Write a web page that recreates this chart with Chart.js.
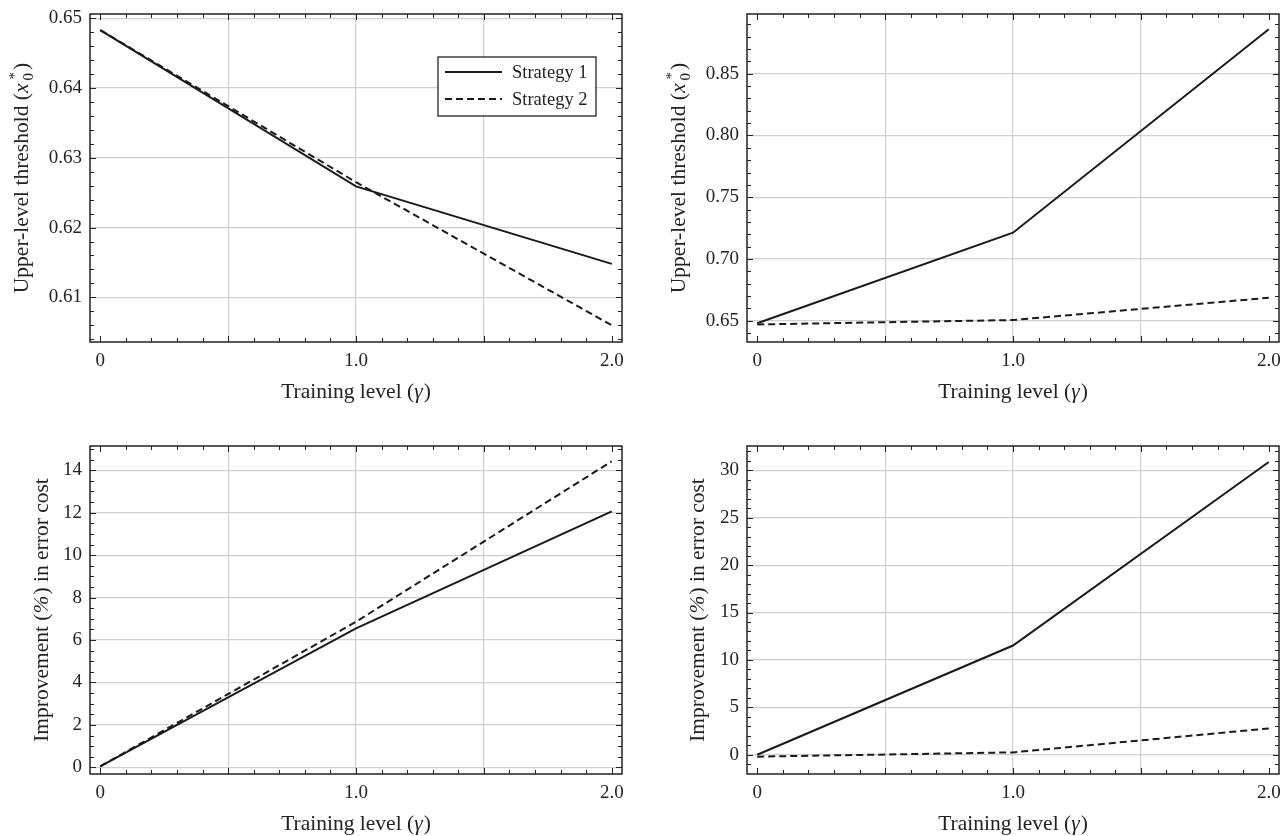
<!DOCTYPE html>
<html>
<head>
<meta charset="utf-8">
<script src="https://cdn.jsdelivr.net/npm/chart.js@4.4.1/dist/chart.umd.min.js"></script>
<style>
  html, body { margin: 0; padding: 0; background: #fff; }
  #wrap { position: relative; width: 1288px; height: 836px; }
  .panel { position: absolute; width: 644px; height: 418px; }
</style>
</head>
<body>
<div id="wrap">
  <div class="panel" style="left:0;top:0"><canvas id="c1"></canvas></div>
  <div class="panel" style="left:644px;top:0"><canvas id="c2"></canvas></div>
  <div class="panel" style="left:0;top:418px"><canvas id="c3"></canvas></div>
  <div class="panel" style="left:644px;top:418px"><canvas id="c4"></canvas></div>
</div>
<script>
// training level values (gamma)
const gamma = [0, 1.0, 2.0];

// upper-level threshold, left panel
const thrA1 = [0.6483, 0.6259, 0.6148];
const thrA2 = [0.6483, 0.6265, 0.6060];
// upper-level threshold, right panel
const thrB1 = [0.648, 0.7213, 0.886];
const thrB2 = [0.647, 0.6506, 0.6686];
// improvement (%) in error cost, left panel
const impA1 = [0.05, 6.55, 12.06];
const impA2 = [0.05, 6.86, 14.42];
// improvement (%) in error cost, right panel
const impB1 = [0.0, 11.52, 30.87];
const impB2 = [-0.2, 0.25, 2.78];

const seriesNames = ["Strategy 1", "Strategy 2"];

// axis ticks
const xTickValues = [0, 0.5, 1.0, 1.5, 2.0];
const xTickLabels = ["0", "", "1.0", "", "2.0"];
const thrATicks = [0.61, 0.62, 0.63, 0.64, 0.65];
const thrBTicks = [0.65, 0.70, 0.75, 0.80, 0.85];
const impATicks = [0, 2, 4, 6, 8, 10, 12, 14];
const impBTicks = [0, 5, 10, 15, 20, 25, 30];

const FONT = '"Liberation Serif", "Times New Roman", serif';
const INK = "#222";
const TICK_SIZE = 19;
const TITLE_SIZE = 21.5;

const xTitle = ["Training level (", { t: "\u03b3", it: true }, ")"];
const thrTitle = ["Upper-level threshold (", { t: "x", it: true, gap: 2 }, { sub: "0", sup: "*" }, ")"];
const impTitle = ["Improvement (", { t: "%", it: true }, ") in error cost"];

// draw a title made of plain / italic / stacked sub+sup pieces, centred on (0,0)
function drawRich(ctx, parts, size) {
  const small = Math.round(size * 0.72);
  const f = (it, s) => (it ? "italic " : "") + s + "px " + FONT;
  const items = parts.map(p => {
    if (typeof p === "string") p = { t: p };
    if (p.sub !== undefined) {
      ctx.font = f(false, small);
      const w = Math.max(ctx.measureText(p.sub).width, ctx.measureText(p.sup).width);
      return { ...p, w: w + 3 };
    }
    ctx.font = f(p.it, size);
    return { ...p, w: ctx.measureText(p.t).width + (p.it ? 1 : 0) + (p.gap || 0) };
  });
  const total = items.reduce((s, p) => s + p.w, 0);
  let x = -total / 2;
  const base = size * 0.33;
  ctx.textAlign = "left";
  ctx.textBaseline = "alphabetic";
  items.forEach(p => {
    if (p.sub !== undefined) {
      ctx.font = f(false, small);
      ctx.fillText(p.sub, x, base + size * 0.22);
      ctx.fillText(p.sup, x + 1, base - size * 0.42);
    } else {
      ctx.font = f(p.it, size);
      ctx.fillText(p.t, x, base);
    }
    x += p.w;
  });
}

const framePlugin = {
  id: "frame",
  afterDraw(chart, args, o) {
    const { ctx, chartArea: a, scales } = chart;
    const xs = scales.x, ys = scales.y;
    ctx.save();
    ctx.strokeStyle = INK;
    ctx.lineWidth = 1;
    ctx.beginPath();
    // inward ticks on all four sides
    for (let i = 0; i <= 20; i++) {
      const v = i / 10;
      const px = Math.round(xs.getPixelForValue(v)) + 0.5;
      const len = i % 5 === 0 ? 6 : 4;
      ctx.moveTo(px, a.bottom); ctx.lineTo(px, a.bottom - len);
      ctx.moveTo(px, a.top); ctx.lineTo(px, a.top + len);
    }
    const n = Math.round((o.yTo - o.yFrom) / o.yStep);
    for (let i = 0; i <= n; i++) {
      const v = o.yFrom + i * o.yStep;
      const py = Math.round(ys.getPixelForValue(v)) + 0.5;
      if (py < a.top || py > a.bottom) continue;
      const major = o.majors.some(m => Math.abs(m - v) < o.yStep / 10);
      const len = major ? 6 : 4;
      ctx.moveTo(a.left, py); ctx.lineTo(a.left + len, py);
      ctx.moveTo(a.right, py); ctx.lineTo(a.right - len, py);
    }
    ctx.stroke();
    ctx.lineWidth = 1.5;
    ctx.strokeRect(a.left, a.top, a.right - a.left, a.bottom - a.top);

    // axis titles
    ctx.fillStyle = INK;
    ctx.save();
    ctx.translate((a.left + a.right) / 2, a.bottom + 49);
    drawRich(ctx, xTitle, TITLE_SIZE);
    ctx.restore();
    ctx.save();
    ctx.translate(a.left + o.yTitleOffset, (a.top + a.bottom) / 2);
    ctx.rotate(-Math.PI / 2);
    drawRich(ctx, o.yTitle, TITLE_SIZE);
    ctx.restore();

    // legend inside the plot
    if (o.legend) {
      const bw = 158, bh = 59;
      const bx = a.right - 26 - bw, by = a.top + 43;
      ctx.fillStyle = "#fff";
      ctx.fillRect(bx, by, bw, bh);
      ctx.lineWidth = 1.3;
      ctx.strokeStyle = INK;
      ctx.strokeRect(bx, by, bw, bh);
      chart.data.datasets.forEach((ds, i) => {
        const ry = by + 15 + i * 27;
        ctx.beginPath();
        ctx.lineWidth = ds.borderWidth;
        ctx.strokeStyle = ds.borderColor;
        ctx.setLineDash(ds.borderDash || []);
        ctx.moveTo(bx + 7, ry); ctx.lineTo(bx + 64, ry);
        ctx.stroke();
        ctx.setLineDash([]);
        ctx.fillStyle = INK;
        ctx.font = "18.5px " + FONT;
        ctx.textAlign = "left";
        ctx.textBaseline = "middle";
        ctx.fillText(ds.label, bx + 74, ry + 1);
      });
    }
    ctx.restore();
  }
};

const gridColor = "#cfcfcf";

function makeChart(id, s1, s2, yMin, yMax, yTicks, yFmt, pad, frameOpts) {
  const pts = arr => gamma.map((g, i) => ({ x: g, y: arr[i] }));
  return new Chart(document.getElementById(id), {
    type: "line",
    data: {
      datasets: [
        { label: seriesNames[0], data: pts(s1), borderColor: "#1a1a1a", borderWidth: 2, pointRadius: 0, tension: 0 },
        { label: seriesNames[1], data: pts(s2), borderColor: "#1a1a1a", borderWidth: 2, borderDash: [7, 4], pointRadius: 0, tension: 0 }
      ]
    },
    options: {
      responsive: true,
      maintainAspectRatio: false,
      animation: false,
      layout: { padding: pad.p },
      plugins: { legend: { display: false }, tooltip: { enabled: false }, frame: frameOpts },
      scales: {
        x: {
          type: "linear",
          min: -0.04,
          max: 2.04,
          afterBuildTicks: sc => { sc.ticks = xTickValues.map(v => ({ value: v })); },
          afterFit: sc => { sc.height = pad.h; sc.paddingLeft = 0; sc.paddingRight = 0; },
          ticks: {
            padding: 8,
            color: INK,
            font: { family: FONT, size: TICK_SIZE },
            maxRotation: 0,
            callback: (v, i) => xTickLabels[i]
          },
          grid: {
            color: c => (c.tick && (c.tick.value === 0 || c.tick.value === 2) ? "rgba(0,0,0,0)" : gridColor),
            lineWidth: 1.2,
            drawTicks: false
          },
          border: { display: false }
        },
        y: {
          min: yMin,
          max: yMax,
          afterBuildTicks: sc => { sc.ticks = yTicks.map(v => ({ value: v })); },
          afterFit: sc => { sc.width = pad.w; sc.paddingTop = 0; sc.paddingBottom = 0; },
          ticks: {
            padding: 8,
            color: INK,
            font: { family: FONT, size: TICK_SIZE },
            callback: (v, i) => yFmt(yTicks[i])
          },
          grid: { color: gridColor, lineWidth: 1.2, drawTicks: false },
          border: { display: false }
        }
      }
    },
    plugins: [framePlugin]
  });
}

const padTopLeft = { p: { left: 0, right: 22, top: 14, bottom: 0 }, w: 90, h: 76 };
const padTopRight = { p: { left: 13, right: 9, top: 14, bottom: 0 }, w: 90, h: 76 };
const padBotLeft = { p: { left: 0, right: 22, top: 28, bottom: 0 }, w: 90, h: 62 };
const padBotRight = { p: { left: 13, right: 9, top: 28, bottom: 0 }, w: 90, h: 62 };

makeChart("c1", thrA1, thrA2, 0.6036, 0.6506, thrATicks, v => v.toFixed(2), padTopLeft,
  { yFrom: 0.604, yTo: 0.650, yStep: 0.002, majors: thrATicks, yTitle: thrTitle, yTitleOffset: -69, legend: true });
makeChart("c2", thrB1, thrB2, 0.6328, 0.8983, thrBTicks, v => v.toFixed(2), padTopRight,
  { yFrom: 0.64, yTo: 0.89, yStep: 0.01, majors: thrBTicks, yTitle: thrTitle, yTitleOffset: -69, legend: false });
makeChart("c3", impA1, impA2, -0.31, 15.14, impATicks, v => String(v), padBotLeft,
  { yFrom: 0, yTo: 15, yStep: 0.5, majors: impATicks, yTitle: impTitle, yTitleOffset: -49, legend: false });
makeChart("c4", impB1, impB2, -2.03, 32.56, impBTicks, v => String(v), padBotRight,
  { yFrom: -2, yTo: 32, yStep: 1, majors: impBTicks, yTitle: impTitle, yTitleOffset: -50, legend: false });
</script>
</body>
</html>
